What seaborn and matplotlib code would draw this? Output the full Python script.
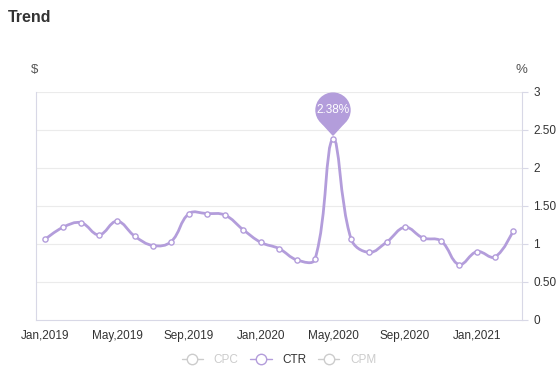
import numpy as np
import pandas as pd
import seaborn as sns
import matplotlib.pyplot as plt
import matplotlib.transforms as mtransforms
from matplotlib.path import Path
from matplotlib.patches import PathPatch, Circle
from matplotlib.lines import Line2D

# 데이터 (CTR, %)
months = pd.date_range('2019-01-01', '2021-03-01', freq='MS')
ctr = [1.06, 1.22, 1.28, 1.12, 1.30, 1.10, 0.98, 1.03, 1.40, 1.40, 1.38, 1.19,
       1.02, 0.94, 0.79, 0.80, 2.38, 1.07, 0.89, 1.03, 1.22, 1.08, 1.04, 0.73,
       0.90, 0.83, 1.17]
tick_idx = [0, 4, 8, 12, 16, 20, 24]
tick_labels = [m.strftime('%b,%Y') for m in months[tick_idx]]
y_ticks = [0, 0.5, 1, 1.5, 2, 2.5, 3]
y_tick_labels = ['0', '0.50', '1', '1.50', '2', '2.50', '3']
series = ['CPC', 'CTR', 'CPM']

df = pd.DataFrame({'idx': np.arange(len(ctr)), 'CTR': ctr})

purple = '#b39ddb'
grid_c = '#ebebeb'
axis_c = '#d8d8e6'
text_c = '#333333'

sns.set_style('white')
plt.rcParams['font.family'] = ['Liberation Sans', 'DejaVu Sans']

fig = plt.figure(figsize=(5.6, 3.76), dpi=100)
ax = fig.add_axes([36 / 560, 56 / 376, 486 / 560, 228 / 376])

# 부드러운 곡선: 거리 가중 제어점 (픽셀 비율 18:76 기준)
x = df['idx'].to_numpy(float)
y = df['CTR'].to_numpy(float)
sx, sy = 18.0, 76.0
smooth = 0.4
n = len(x)
cp_in, cp_out = [], []
for i in range(n):
    p = np.array([x[i], y[i]])
    if i == 0 or i == n - 1:
        cp_in.append(p)
        cp_out.append(p)
        continue
    prev = np.array([x[i - 1], y[i - 1]])
    nxt = np.array([x[i + 1], y[i + 1]])
    v = (nxt - prev) * smooth
    d0 = np.hypot((p[0] - prev[0]) * sx, (p[1] - prev[1]) * sy)
    d1 = np.hypot((nxt[0] - p[0]) * sx, (nxt[1] - p[1]) * sy)
    w0 = d0 / (d0 + d1)
    w1 = d1 / (d0 + d1)
    cp_in.append(p - v * w0)
    cp_out.append(p + v * w1)

verts = [(x[0], y[0])]
codes = [Path.MOVETO]
for i in range(n - 1):
    verts += [tuple(cp_out[i]), tuple(cp_in[i + 1]), (x[i + 1], y[i + 1])]
    codes += [Path.CURVE4] * 3
ax.add_patch(PathPatch(Path(verts, codes), fill=False, edgecolor=purple,
                       lw=2, zorder=3, capstyle='round'))

sns.scatterplot(data=df, x='idx', y='CTR', ax=ax, s=14, marker='o',
                facecolor='white', edgecolor=purple, linewidth=1, zorder=4,
                legend=False)

ax.set_xlim(-0.5, 26.5)
ax.set_ylim(0, 3)
ax.set_xlabel('')
ax.set_ylabel('')

ax.set_xticks(tick_idx)
ax.set_xticklabels(tick_labels, fontsize=8.5, color=text_c)
ax.yaxis.tick_right()
ax.set_yticks(y_ticks)
ax.set_yticklabels(y_tick_labels, fontsize=8.5, color=text_c)
ax.tick_params(axis='both', length=4, width=0.8, color=axis_c, pad=3)
ax.tick_params(axis='y', pad=4)

for yt in y_ticks[1:]:
    ax.axhline(yt, color=grid_c, lw=0.8, zorder=0)
for s in ['left', 'right', 'bottom']:
    ax.spines[s].set_color(axis_c)
    ax.spines[s].set_linewidth(0.8)
ax.spines['top'].set_visible(False)

# 최고점 말풍선
peak = int(np.argmax(y))
trans = fig.dpi_scale_trans + mtransforms.ScaledTranslation(x[peak], y[peak], ax.transData)
r = 0.17
cy = 0.29
tip = 0.04
ang = np.deg2rad(40)
tail = [(-r * np.sin(ang), cy - r * np.cos(ang)), (0, tip), (r * np.sin(ang), cy - r * np.cos(ang))]
ax.add_patch(plt.Polygon(tail, closed=True, transform=trans, color=purple, zorder=5, clip_on=False))
ax.add_patch(Circle((0, cy), r, transform=trans, color=purple, zorder=5, clip_on=False))
ax.text(0, cy, f'{y[peak]:.2f}%', transform=trans, ha='center', va='center',
        fontsize=8.5, color='white', zorder=6)

# 제목 및 축 단위
fig.text(8 / 560, 1 - 18 / 376, 'Trend', fontsize=11.5, fontweight='bold', color=text_c, va='center')
fig.text(35 / 560, 1 - 70 / 376, '$', fontsize=9.5, color='#555555', ha='center', va='center')
fig.text(521 / 560, 1 - 70 / 376, '%', fontsize=9.5, color='#555555', ha='center', va='center')

# 범례
handles = []
for name in series:
    c = purple if name == 'CTR' else '#cccccc'
    handles.append(Line2D([0], [0], color=c, lw=1, marker='o', markersize=7.5,
                          markerfacecolor='white', markeredgecolor=c, markeredgewidth=1))
leg = fig.legend(handles, series, loc='center', bbox_to_anchor=(279 / 560, 1 - 360 / 376),
                 ncol=3, frameon=False, fontsize=8.5, handlelength=1.8,
                 handletextpad=0.9, columnspacing=1.0)
for t, name in zip(leg.get_texts(), series):
    t.set_color(text_c if name == 'CTR' else '#cccccc')

fig.savefig('out.png', dpi=100)
